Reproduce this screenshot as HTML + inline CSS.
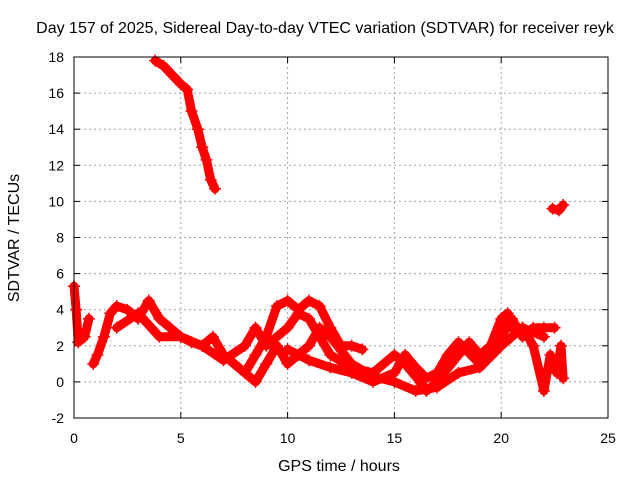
<!DOCTYPE html>
<html><head><meta charset="utf-8"><style>
body{margin:0;background:#fff}
svg text{font-family:"Liberation Sans",sans-serif;font-size:14px;fill:#000}
svg text.big{font-size:16px}
</style></head><body>
<svg id="c" width="640" height="480" xmlns="http://www.w3.org/2000/svg">
<rect width="640" height="480" fill="#fff"/>
<text class="big" x="325" y="33" text-anchor="middle">Day 157 of 2025, Sidereal Day-to-day VTEC variation (SDTVAR) for receiver reyk</text>
<text class="big" x="339" y="471" text-anchor="middle">GPS time / hours</text>
<text class="big" transform="translate(19,238) rotate(-90)" text-anchor="middle">SDTVAR / TECUs</text>
<g id="grid"></g><g id="marks"></g>
<rect x="74" y="57" width="534" height="361" fill="none" stroke="#000" stroke-width="1"/>
</svg>
<script>
const xTicks=[0,5,10,15,20,25];
const yTicks=[-2,0,2,4,6,8,10,12,14,16,18];
const trackA=[[3.8,17.8],[4.2,17.5],[4.6,17.0],[5.0,16.5],[5.3,16.2],[5.5,15.0],[5.8,14.0],[6.0,13.0],[6.2,12.3],[6.4,11.2],[6.6,10.7]];
const trackB=[[22.4,9.6],[22.7,9.5],[22.9,9.8]];
const track1=[[0,5.3],[0.1,4],[0.2,2.2],[0.5,2.5],[0.7,3.5]];
const track2=[[0.9,1],[1.1,1.5],[1.4,2.5],[1.7,3.8],[2.0,4.2],[2.5,4.0],[3,3.5],[3.5,4.5],[4,3.5],[4.5,3],[5,2.5],[5.5,2.2],[6,2.0],[6.5,2.5],[7,1.5],[7.5,1],[8,0.5],[8.5,1.5],[9,2.5],[9.5,4.2],[10,4.5],[10.5,4.0],[11,4.5],[11.5,4.2],[12,3],[12.5,2],[13,2.0],[13.5,1.8]];
const track3=[[2,3.0],[3,3.8],[4,2.5],[5,2.5],[6,2.0],[7,1.2],[8,2],[8.5,3],[9,2],[10,3],[10.5,3.8],[11,3.5],[11.5,2.5],[12,1.5],[13,0.8],[14,0.5],[15,1.5],[15.5,1.0],[16,0.3],[16.5,-0.5],[17,0],[18,1.5],[18.5,2.2],[19,1.5],[19.5,2.0],[20,3.5],[20.3,3.8],[20.5,3]];
const track4=[[7,1.5],[8,0.5],[8.5,0],[9,1],[9.5,2],[10,1],[10.5,1.5],[11,2],[11.5,3.0],[12,2.5],[13,1],[14,0.3],[15,0],[16,-0.5],[17,-0.3],[18,0.5],[19,0.8],[20,2],[21,3],[22,2.5]];
const track5=[[10,1.8],[11,1.2],[12,0.8],[13,0.5],[14,0],[15,0.5],[15.5,1.5],[16,0.8],[16.5,0.2],[17,0.5],[17.5,1.5],[18,2.2],[19,1],[20,2.5],[20.5,3.5],[21,2.5],[21.5,3],[22,3],[22.5,3.0]];
const track6=[[21,3],[21.5,2],[22,-0.5],[22.3,1.5],[22.6,0.5],[22.8,2.0],[22.9,0.2]];
const tracks=[trackA,trackB,track1,track2,track3,track4,track5,track6];
const X=v=>74+v*(534/25), Y=v=>418-(v+2)*(361/20);
const NS='http://www.w3.org/2000/svg';
const g=document.getElementById('grid'), m=document.getElementById('marks');
function mk(t,a,p){const e=document.createElementNS(NS,t);for(const k in a)e.setAttribute(k,a[k]);p.appendChild(e);return e;}
xTicks.forEach(t=>{const x=X(t);
 if(t>0&&t<25){const l=mk('line',{x1:x,x2:x,y1:57,y2:418,stroke:'#a0a0a0','stroke-dasharray':'2,3'},g);}
 const tx=mk('text',{x:x,y:443,'text-anchor':'middle'},g);tx.textContent=t;
 
 
 mk('line',{x1:x,x2:x,y1:418,y2:412,stroke:'#000'},g);mk('line',{x1:x,x2:x,y1:57,y2:63,stroke:'#000'},g);});
yTicks.forEach(t=>{const y=Y(t);
 if(t>-2&&t<18){const l=mk('line',{x1:74,x2:608,y1:y,y2:y,stroke:'#a0a0a0','stroke-dasharray':'2,3'},g);}
 const tx=mk('text',{x:64,y:y+5,'text-anchor':'end'},g);tx.textContent=t;
 
 
 mk('line',{x1:74,x2:80,y1:y,y2:y,stroke:'#000'},g);mk('line',{x1:608,x2:602,y1:y,y2:y,stroke:'#000'},g);});
tracks.forEach(tr=>{
 const pl=mk('polyline',{points:tr.map(p=>X(p[0])+','+Y(p[1])).join(' '),fill:'none',stroke:'#f00','stroke-width':9,'stroke-linejoin':'round','stroke-linecap':'round'},m);
 
 
 tr.forEach(p=>{const x=X(p[0]),y=Y(p[1]);
  const pt=mk('path',{d:`M${x-6},${y}h12M${x},${y-6}v12`,stroke:'#f00','stroke-width':1.5},m);
  
  });
});
</script>
</body></html>
